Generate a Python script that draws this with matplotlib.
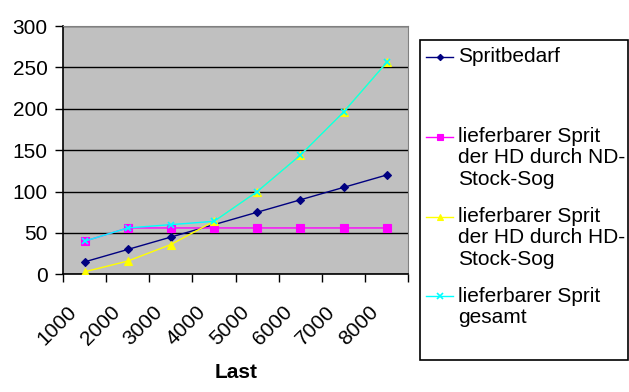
import matplotlib.pyplot as plt
from matplotlib.lines import Line2D
from matplotlib.transforms import ScaledTranslation

plt.rcParams['font.family'] = ['Liberation Sans', 'DejaVu Sans']

# data
last = ["1000", "2000", "3000", "4000", "5000", "6000", "7000", "8000"]
spritbedarf = [15, 30, 45, 60, 75, 90, 105, 120]
nd_stock_sog = [40, 56, 56, 56, 56, 56, 56, 56]
hd_stock_sog = [3, 16, 36, 64, 100, 144, 196, 256]
gesamt = [40, 56, 60, 64, 100, 144, 196, 256]

series_labels = [
    "Spritbedarf",
    "lieferbarer Sprit\nder HD durch ND-\nStock-Sog",
    "lieferbarer Sprit\nder HD durch HD-\nStock-Sog",
    "lieferbarer Sprit\ngesamt",
]
colors = ["#000080", "#FF00FF", "#FFFF00", "#00FFFF"]
markers = ["D", "s", "^", "x"]
msizes = [4, 5.5, 6, 5]

FS = 15
W, H = 629, 392

fig = plt.figure(figsize=(W / 100, H / 100), dpi=100)
ax = fig.add_axes([63 / W, 1 - 274.3 / H, (408.3 - 63) / W, (274.3 - 26) / H])
ax.set_facecolor("#C0C0C0")

x = list(range(len(last)))
all_series = [spritbedarf, nd_stock_sog, hd_stock_sog, gesamt]
for vals, c, m, ms, lab in zip(all_series, colors, markers, msizes, series_labels):
    ax.plot(x, vals, color=c, marker=m, markersize=ms, linewidth=1.0,
            markeredgewidth=1.2 if m == "x" else 0.8, label=lab, zorder=3)

ax.set_xlim(-0.5, len(last) - 0.5)
ax.set_ylim(0, 300)
ax.set_yticks(range(0, 301, 50))
ax.yaxis.grid(True, color="black", linewidth=1.0)
ax.set_axisbelow(True)

# category boundaries get tick marks, labels sit at the category centres
ax.set_xticks([i - 0.5 for i in range(len(last) + 1)])
ax.set_xticklabels([])
ax.set_xticks(x, minor=True)
ax.set_xticklabels(last, minor=True, rotation=45, ha="right", va="center",
                   rotation_mode="anchor", fontsize=FS)
ax.tick_params(axis="x", which="major", direction="out", length=6, width=1, color="black")
ax.tick_params(axis="x", which="minor", length=0, pad=25)
ax.tick_params(axis="y", direction="out", length=6, width=1, labelsize=FS, pad=5)
shift = ScaledTranslation(-11 / 100, 0, fig.dpi_scale_trans)
for t in ax.get_xticklabels(minor=True):
    t.set_transform(t.get_transform() + shift)

for side in ["top", "right"]:
    ax.spines[side].set_color("#808080")
for side in ["left", "bottom"]:
    ax.spines[side].set_color("black")
    ax.spines[side].set_linewidth(1.2)

ax.set_xlabel("Last", fontsize=FS, fontweight="bold")
ax.xaxis.set_label_coords(0.5, -(372.5 - 274.3) / (274.3 - 26), transform=ax.transAxes)
ax.xaxis.label.set_va("center")

# legend box drawn by hand so the markers sit on the first text line
box = plt.Rectangle((419.5 / W, 1 - 359.5 / H), (627.5 - 419.5) / W, (359.5 - 39.5) / H,
                    transform=fig.transFigure, facecolor="white", edgecolor="black",
                    linewidth=1.2)
fig.patches.append(box)
row_y = [56.7, 136.7, 216.7, 296.3]
for yy, c, m, ms, lab in zip(row_y, colors, markers, msizes, series_labels):
    fy = 1 - yy / H
    fig.add_artist(Line2D([426 / W, 453 / W], [fy, fy], transform=fig.transFigure,
                          color=c, linewidth=1.0))
    fig.add_artist(Line2D([439.5 / W], [fy], transform=fig.transFigure, color=c,
                          marker=m, markersize=ms * 0.8,
                          markeredgewidth=1.2 if m == "x" else 0.8))
    fig.text(458 / W, fy + 9.5 / H, lab, fontsize=FS, va="top", ha="left",
             linespacing=1.15)

fig.savefig("out.png", dpi=100)
